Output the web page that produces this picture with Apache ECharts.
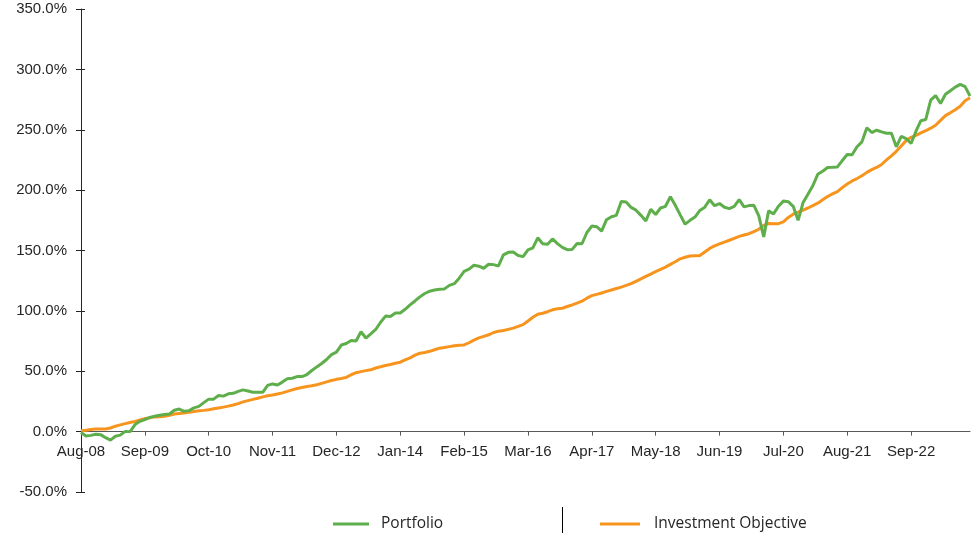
<!DOCTYPE html>
<html>
<head>
<meta charset="utf-8">
<script src="https://cdn.jsdelivr.net/npm/echarts@6/dist/echarts.min.js"></script>
<style>
  html, body { margin: 0; padding: 0; background: #fff; }
  #container { width: 980px; height: 535px; }
</style>
</head>
<body>
<div id="container"></div>
<script>
// month labels Aug-08 .. Sep-23
var monthNames = ['Jan', 'Feb', 'Mar', 'Apr', 'May', 'Jun', 'Jul', 'Aug', 'Sep', 'Oct', 'Nov', 'Dec'];
var months = [];
for (var k = 0; k < 182; k++) {
    var m = (7 + k) % 12;
    var yr = 8 + Math.floor((7 + k) / 12);
    months.push(monthNames[m] + '-' + (yr < 10 ? '0' + yr : '' + yr));
}

var portfolio = [
    -0.8, -3.7, -3.1, -2.2, -2.5, -5.0, -7.0, -3.8, -2.9, 0.2,
    0.0, 5.8, 8.5, 10.0, 11.8, 12.7, 13.5, 14.1, 14.6, 17.7,
    18.7, 16.8, 17.4, 19.7, 20.9, 24.0, 26.9, 26.9, 29.9, 29.4,
    31.3, 31.7, 33.3, 34.6, 33.7, 32.6, 32.6, 32.6, 38.3, 39.5,
    38.6, 41.0, 43.7, 44.2, 45.6, 45.6, 47.3, 50.6, 53.6, 56.4,
    59.7, 63.8, 65.8, 71.7, 73.0, 75.5, 75.0, 82.7, 77.5, 81.0,
    84.6, 90.6, 95.7, 95.4, 98.2, 98.3, 101.3, 104.9, 108.2, 111.6,
    114.4, 116.3, 117.3, 117.9, 118.2, 121.1, 122.5, 127.1, 132.7, 134.6,
    137.8, 137.0, 135.3, 138.6, 138.3, 137.2, 146.4, 148.5, 148.7, 145.9,
    144.9, 150.6, 152.2, 160.5, 155.6, 155.1, 159.6, 155.7, 152.6, 150.7,
    150.9, 155.8, 155.6, 164.9, 170.2, 169.7, 166.1, 175.5, 178.0, 179.1,
    190.6, 190.2, 185.7, 183.4, 179.1, 174.5, 184.1, 179.8, 185.2, 186.6,
    194.5, 187.4, 179.5, 171.8, 175.0, 177.7, 183.2, 185.9, 192.0, 187.1,
    188.9, 185.8, 184.7, 186.6, 192.1, 186.1, 187.2, 187.4, 178.7, 161.3,
    182.8, 180.3, 186.6, 190.9, 190.4, 186.6, 175.0, 189.5, 196.5, 203.6,
    213.1, 215.6, 218.7, 218.9, 219.2, 224.5, 229.5, 229.3, 235.9, 240.0,
    251.7, 247.7, 249.6, 248.2, 247.1, 247.1, 235.9, 244.6, 242.7, 238.6,
    248.8, 257.5, 258.5, 274.5, 278.3, 271.7, 279.4, 282.3, 285.3, 287.6,
    285.7, 278.0
];

var objective = [
    0.8, 1.2, 1.7, 2.1, 2.2, 2.2, 3.0, 4.5, 5.6, 6.6,
    7.6, 8.5, 9.6, 10.8, 11.4, 12.2, 12.4, 12.7, 13.6, 14.6,
    15.1, 15.4, 16.1, 16.7, 17.2, 17.6, 18.2, 18.9, 19.6, 20.3,
    21.1, 22.0, 23.2, 24.6, 25.7, 26.7, 27.7, 28.8, 29.7, 30.3,
    31.2, 32.1, 33.3, 34.6, 35.7, 36.6, 37.3, 38.0, 38.8, 40.0,
    41.2, 42.3, 43.3, 44.0, 44.9, 47.1, 48.8, 49.7, 50.5, 51.2,
    52.7, 53.7, 54.8, 55.6, 56.6, 57.5, 59.4, 61.1, 63.3, 64.9,
    65.6, 66.5, 67.8, 69.1, 69.7, 70.4, 71.1, 71.6, 71.8, 73.6,
    75.8, 77.6, 78.9, 80.2, 82.1, 83.1, 83.7, 84.7, 85.7, 87.1,
    88.6, 91.6, 94.7, 97.2, 98.0, 99.3, 100.9, 101.7, 102.2, 103.6,
    104.9, 106.4, 108.0, 110.5, 112.6, 113.7, 114.8, 116.1, 117.3, 118.5,
    119.7, 121.1, 122.5, 124.5, 126.5, 128.5, 130.5, 132.5, 134.3, 136.2,
    138.5, 140.7, 143.1, 144.4, 145.4, 145.7, 145.9, 148.8, 151.7, 153.8,
    155.5, 157.0, 158.5, 160.1, 161.7, 162.8, 163.9, 165.6, 167.6, 170.8,
    172.4, 172.2, 172.2, 173.7, 177.4, 180.1, 181.8, 183.5, 185.2, 187.2,
    189.2, 192.0, 194.7, 196.9, 198.8, 202.1, 205.1, 207.6, 209.6, 211.9,
    214.7, 217.0, 218.8, 221.2, 225.0, 228.4, 232.1, 236.6, 241.0, 243.7,
    245.4, 247.4, 249.2, 251.3, 253.7, 257.8, 261.7, 264.1, 266.5, 269.5,
    274.0, 276.5
];

var yMin = -50, yMax = 350, yStep = 50;

var dom = document.getElementById('container');
var myChart = echarts.init(dom);
var option = {
    backgroundColor: '#ffffff',
    animation: false,
    grid: {
        left: 81,
        right: 10,
        top: 9,
        bottom: 43
    },
    legend: [{
        left: 328,
        top: 511,
        icon: 'rect',
        itemWidth: 36,
        itemHeight: 3,
        data: ['Portfolio'],
        textStyle: {
            fontFamily: 'Open Sans',
            fontSize: 15.5,
            color: '#262626',
            padding: [0, 0, 0, 7]
        }
    }, {
        left: 595,
        top: 511,
        icon: 'rect',
        itemWidth: 40,
        itemHeight: 3,
        data: ['Investment Objective'],
        textStyle: {
            fontFamily: 'Open Sans',
            fontSize: 15.5,
            color: '#262626',
            padding: [0, 0, 0, 9]
        }
    }],
    graphic: [{
        type: 'line',
        shape: { x1: 562.5, y1: 507, x2: 562.5, y2: 533 },
        style: { stroke: '#000', lineWidth: 1 }
    }],
    xAxis: {
        type: 'category',
        boundaryGap: false,
        data: months,
        axisLine: {
            onZero: true,
            lineStyle: { color: '#595959', width: 1 }
        },
        axisTick: {
            interval: 12,
            length: 4,
            lineStyle: { color: '#595959' }
        },
        axisLabel: {
            interval: 12,
            // labels sit just under the zero line, not at the grid bottom
            margin: -48,
            fontFamily: 'Liberation Sans',
            fontSize: 15,
            color: '#262626'
        },
        splitLine: { show: false }
    },
    yAxis: [{
        type: 'value',
        min: yMin,
        max: yMax,
        interval: yStep,
        axisLine: {
            show: true,
            lineStyle: { color: '#262626', width: 1 }
        },
        axisTick: {
            show: true,
            length: 5,
            lineStyle: { color: '#262626' }
        },
        axisLabel: {
            margin: 14,
            fontFamily: 'Liberation Sans',
            fontSize: 15,
            color: '#262626',
            formatter: function (v) {
                return v.toFixed(1) + '%';
            }
        },
        splitLine: { show: false }
    }, {
        // inner half of the cross ticks
        type: 'value',
        position: 'left',
        min: yMin,
        max: yMax,
        interval: yStep,
        axisLine: { show: false },
        axisTick: {
            show: true,
            inside: true,
            length: 4,
            lineStyle: { color: '#262626' }
        },
        axisLabel: { show: false },
        splitLine: { show: false }
    }],
    series: [{
        name: 'Portfolio',
        type: 'line',
        data: portfolio,
        showSymbol: false,
        symbol: 'none',
        itemStyle: { color: '#5fae4c' },
        lineStyle: { color: '#5fae4c', width: 3 },
        z: 3
    }, {
        name: 'Investment Objective',
        type: 'line',
        data: objective,
        showSymbol: false,
        symbol: 'none',
        itemStyle: { color: '#f7941d' },
        lineStyle: { color: '#f7941d', width: 3 },
        z: 2
    }]
};

if (option && typeof option === 'object') {
    myChart.setOption(option, true);
}
</script>
</body>
</html>
